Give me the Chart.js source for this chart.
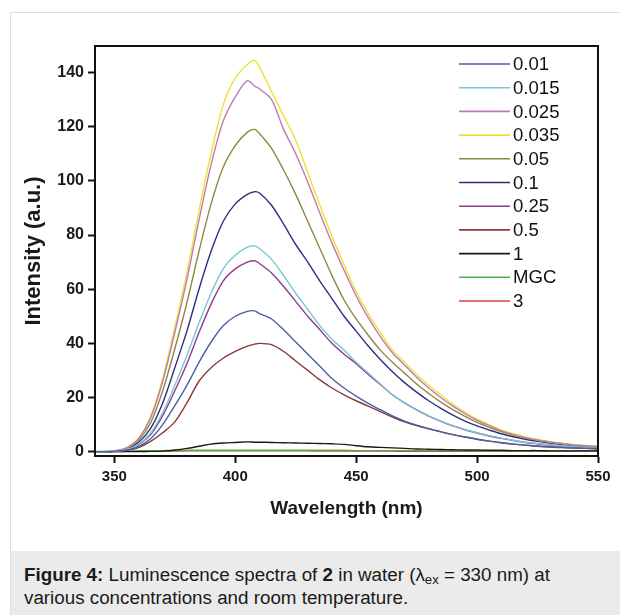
<!DOCTYPE html>
<html>
<head>
<meta charset="utf-8">
<script src="https://cdn.jsdelivr.net/npm/chart.js@4.4.1/dist/chart.umd.min.js"></script>
<style>
    html, body { margin: 0; padding: 0; background: #fff; width: 620px; height: 615px; overflow: hidden; font-family: "Liberation Sans", Arial, sans-serif; }
    .frame { position: absolute; left: 10px; top: 12px; width: 700px; height: 700px; border-left: 1px solid #dedede; border-top: 1px solid #dedede; }
    #wrap { position: absolute; left: 0; top: 0; width: 620px; height: 545px; }
    .caption { position: absolute; left: 11px; top: 551px; width: 609px; height: 64px; background: #ebebeb; box-sizing: border-box; padding: 12px 0 0 13px; font-size: 18.8px; line-height: 23px; color: #1a1a1a; white-space: nowrap; }
    .caption sub { font-size: 0.7em; vertical-align: -0.25em; line-height: 0; }
</style>
</head>
<body>
<div class="frame"></div>
<div id="wrap"><canvas id="spectra" width="620" height="545"></canvas></div>
<div class="caption"><b>Figure 4:</b> Luminescence spectra of <b>2</b> in water (λ<sub>ex</sub> = 330 nm) at<br>various concentrations and room temperature.</div>
<script>
// wavelength (nm)
const wavelengths = [342, 345, 350, 355, 360, 365, 370, 375, 380, 385, 390, 395, 400, 405, 408,
    410, 415, 420, 425, 430, 435, 440, 445, 450, 455, 460, 465, 470, 475, 480, 485, 490, 495, 500,
    505, 510, 515, 520, 525, 530, 535, 540, 545, 550];

// intensity (a.u.) per concentration
const c001 = [0, 0, 0.1, 0.6, 1.9, 4.8, 10, 17, 24.5, 33, 40.5, 46.5, 50, 51.8, 52,
    51, 49, 45, 40.5, 36, 31.5, 27, 23.5, 20.5, 17.8, 15.5, 13.2, 11.3, 9.8, 8.5, 7.4, 6.3, 5.4, 4.6,
    3.9, 3.3, 2.8, 2.4, 2.1, 1.8, 1.6, 1.4, 1.2, 1.1];
const c0015 = [0, 0, 0.1, 0.8, 2.7, 6.8, 14.4, 24.5, 35.5, 47.5, 58.5, 67.5, 72.5, 75.5, 76,
    75, 71, 65, 58.5, 52.5, 46.5, 41.5, 37.5, 33, 29, 25, 21, 18, 15.5, 13.2, 11.3, 9.6, 8.2, 7,
    5.9, 5, 4.2, 3.5, 3, 2.5, 2.1, 1.8, 1.5, 1.3];
const c0025 = [0, 0, 0.3, 1.4, 4.8, 12.5, 26, 44, 63.5, 85.5, 106, 122, 131, 137, 135,
    134, 130, 119, 110, 99.5, 88, 77, 67, 57.5, 49.5, 42.5, 36.5, 32, 27.5, 23.5, 20, 16.8, 14, 11.6,
    9.6, 7.7, 6.3, 5.2, 4.3, 3.6, 3, 2.5, 2.2, 1.9];
const c0035 = [0, 0, 0.3, 1.5, 5, 13, 27, 46, 66, 89, 110, 128, 138, 143, 144.5,
    142, 133, 124, 115, 103, 91, 79.5, 69, 59, 51, 44, 37.5, 33, 28.5, 24.5, 21, 17.5, 14.5, 12,
    10, 8, 6.6, 5.4, 4.5, 3.7, 3.1, 2.6, 2.3, 2];
const c005 = [0, 0, 0.2, 1.2, 4.2, 10.7, 22.5, 38, 55, 74, 91.5, 105, 113, 118, 119,
    117.5, 112, 104, 95, 85, 75, 65, 56, 49, 43, 37.5, 33, 29, 25, 21.5, 18.3, 15.5, 13, 10.8,
    9, 7.4, 6.1, 5, 4.2, 3.5, 2.9, 2.5, 2.1, 1.8];
const c01 = [0, 0, 0.2, 1, 3.4, 8.6, 18, 31, 44.5, 60, 74, 85, 91.5, 95, 96,
    95.5, 91, 84, 76.5, 70, 63, 56.5, 50, 44.5, 39, 34, 29.5, 25.5, 22, 18.8, 16, 13.5, 11.3, 9.5,
    8, 6.6, 5.5, 4.6, 3.8, 3.2, 2.7, 2.2, 1.9, 1.6];
const c025 = [0, 0, 0.1, 0.7, 2.5, 6.3, 13.3, 22.5, 32.5, 44, 54.5, 63, 67.5, 70, 70.5,
    69.5, 66, 61, 55.5, 50, 45, 40, 36, 32.5, 28.5, 24.8, 21, 18, 15.4, 13.1, 11.2, 9.5, 8.1, 6.9,
    5.8, 4.9, 4.1, 3.4, 2.9, 2.4, 2, 1.7, 1.5, 1.3];
const c05 = [0, 0, 0.1, 0.5, 1.5, 3.8, 7, 11, 18, 26, 31, 34.5, 37, 39, 39.7,
    40, 39.5, 37, 33.5, 30, 26.5, 23.5, 21, 18.8, 16.8, 14.8, 12.8, 11, 9.6, 8.4, 7.3, 6.3, 5.4, 4.6,
    3.9, 3.3, 2.8, 2.4, 2, 1.7, 1.5, 1.3, 1.2, 1];
const c1 = [0, 0, 0, 0, 0.05, 0.1, 0.2, 0.6, 1.2, 2, 2.8, 3.2, 3.4, 3.6, 3.5,
    3.5, 3.4, 3.3, 3.2, 3.1, 3, 2.9, 2.7, 2.2, 1.8, 1.6, 1.4, 1.2, 1, 0.9, 0.8, 0.7, 0.6, 0.6,
    0.5, 0.5, 0.4, 0.4, 0.4, 0.3, 0.3, 0.3, 0.3, 0.3];
const cMGC = [0.1, 0.1, 0.2, 0.2, 0.3, 0.3, 0.4, 0.4, 0.5, 0.5, 0.5, 0.5, 0.5, 0.5, 0.5,
    0.5, 0.5, 0.5, 0.5, 0.5, 0.5, 0.5, 0.5, 0.4, 0.4, 0.4, 0.4, 0.4, 0.4, 0.4, 0.4, 0.4, 0.3, 0.3,
    0.3, 0.3, 0.3, 0.3, 0.3, 0.3, 0.3, 0.3, 0.3, 0.3];
const c3 = [0, 0, 0, 0.1, 0.1, 0.1, 0.2, 0.2, 0.3, 0.3, 0.3, 0.3, 0.3, 0.3, 0.3,
    0.3, 0.3, 0.3, 0.3, 0.3, 0.2, 0.2, 0.2, 0.2, 0.2, 0.2, 0.2, 0.1, 0.1, 0.1, 0.1, 0.1, 0.1, 0.1,
    0.1, 0.1, 0.1, 0.1, 0.1, 0.1, 0.1, 0.1, 0.1, 0.1];

const seriesLabels = ['0.01', '0.015', '0.025', '0.035', '0.05', '0.1', '0.25', '0.5', '1', 'MGC', '3'];
const seriesValues = [c001, c0015, c0025, c0035, c005, c01, c025, c05, c1, cMGC, c3];
const seriesColors = ['#4a5fa8', '#78c8cc', '#c07ab0', '#ece234', '#8c8a40', '#2e2e80',
    '#8e3a8e', '#8a3a38', '#1a1a1a', '#4caf50', '#d84040'];

const xTicks = [350, 400, 450, 500, 550];
const yTicks = [0, 20, 40, 60, 80, 100, 120, 140];

const FONT = '"Liberation Sans", Arial, sans-serif';

// box round the plot
const plotFrame = {
    id: 'plotFrame',
    afterDraw(chart) {
        const { ctx, chartArea: a } = chart;
        ctx.save();
        ctx.strokeStyle = '#111';
        ctx.lineWidth = 2;
        ctx.strokeRect(a.left, a.top, a.right - a.left, a.bottom - a.top);
        ctx.restore();
    }
};

// legend with line samples, top right inside the plot
const lineLegend = {
    id: 'lineLegend',
    afterDatasetsDraw(chart) {
        const ctx = chart.ctx;
        ctx.save();
        ctx.font = `18.6px ${FONT}`;
        ctx.textBaseline = 'middle';
        chart.data.datasets.forEach((ds, i) => {
            const y = 64 + i * 23.7;
            ctx.strokeStyle = ds.borderColor;
            ctx.lineWidth = 1.6;
            ctx.beginPath();
            ctx.moveTo(459, y);
            ctx.lineTo(510, y);
            ctx.stroke();
            ctx.fillStyle = '#111';
            ctx.fillText(ds.label, 513, y + 1);
        });
        ctx.restore();
    }
};

new Chart(document.getElementById('spectra'), {
    type: 'line',
    data: {
        datasets: seriesLabels.map((label, i) => ({
            label,
            data: wavelengths.map((w, j) => ({ x: w, y: seriesValues[i][j] })),
            borderColor: seriesColors[i],
            borderWidth: 1.4,
            pointRadius: 0,
            tension: 0.3,
            fill: false
        }))
    },
    options: {
        responsive: false,
        animation: false,
        layout: { padding: { left: 0, right: 22, top: 46, bottom: 0 } },
        plugins: { legend: { display: false }, tooltip: { enabled: false } },
        scales: {
            x: {
                type: 'linear',
                min: 342,
                max: 550,
                afterFit: (s) => { s.height = 89; },
                afterBuildTicks: (s) => { s.ticks = xTicks.map(v => ({ value: v })); },
                border: { color: '#111', width: 2 },
                grid: { drawOnChartArea: false, tickLength: 7, tickWidth: 2, tickColor: '#111' },
                ticks: { color: '#1a1a1a', padding: 5, maxRotation: 0, font: { family: FONT, size: 15, weight: 'bold' } },
                title: { display: true, text: 'Wavelength (nm)', color: '#1a1a1a', padding: { top: 0, bottom: 25 }, font: { family: FONT, size: 19, weight: 'bold' } }
            },
            y: {
                min: -1.6,
                max: 149.8,
                afterFit: (s) => { s.width = 95; },
                afterBuildTicks: (s) => { s.ticks = yTicks.map(v => ({ value: v })); },
                border: { color: '#111', width: 2 },
                grid: { drawOnChartArea: false, tickLength: 7, tickWidth: 2, tickColor: '#111' },
                ticks: { color: '#1a1a1a', padding: 4, font: { family: FONT, size: 16, weight: 'bold' } },
                title: { display: true, text: 'Intensity (a.u.)', color: '#1a1a1a', padding: { top: 21, bottom: 0 }, font: { family: FONT, size: 22, weight: 'bold' } }
            }
        }
    },
    plugins: [plotFrame, lineLegend]
});
</script>
</body>
</html>
